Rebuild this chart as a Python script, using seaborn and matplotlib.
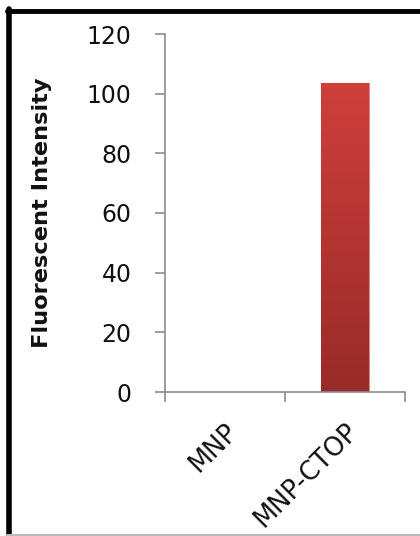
import numpy as np
import pandas as pd
import matplotlib
matplotlib.use("Agg")
import matplotlib.pyplot as plt
from matplotlib.lines import Line2D
from matplotlib.colors import LinearSegmentedColormap
from matplotlib.transforms import ScaledTranslation
import seaborn as sns

categories = ["MNP", "MNP-CTOP"]
intensity = [0.0, 103.5]
yticks = [0, 20, 40, 60, 80, 100, 120]
ylabel = "Fluorescent Intensity"

sns.set_theme(style="white")
plt.rcParams['font.family'] = ['DejaVu Sans']

W, H = 420, 536
fig = plt.figure(figsize=(W / 100, H / 100), dpi=100)
ax = fig.add_axes([165 / W, 1 - 392 / H, (405 - 165) / W, (392 - 34) / H])

df = pd.DataFrame({"cat": categories, "val": intensity})
sns.barplot(data=df, x="cat", y="val", ax=ax, color="#B83432", width=0.4,
            saturation=1, edgecolor="none")

# gradient fill for bars
grad = np.linspace(0, 1, 256).reshape(-1, 1)
cmap = LinearSegmentedColormap.from_list("g", ["#982B29", "#CF3F3B"])
for p in ax.patches:
    x0, y0 = p.get_x(), p.get_y()
    w, h = p.get_width(), p.get_height()
    if h <= 0:
        continue
    im = ax.imshow(grad, extent=[x0, x0 + w, y0, y0 + h], origin="lower",
                   cmap=cmap, aspect="auto", zorder=p.get_zorder() + 0.1)
    im.set_clip_path(p)
    p.set_edgecolor("#E08A88")
    p.set_linewidth(0.8)

ax.set_xlim(-0.5, 1.5)
ax.set_ylim(0, 120)
ax.set_yticks(yticks)
ax.set_yticklabels([str(t) for t in yticks], fontsize=17, color="#111111")

ax.set_xticks([-0.5, 0.5, 1.5])
ax.set_xticklabels([])
ax.set_xticks([0, 1], minor=True)
ax.set_xticklabels(categories, minor=True, rotation=45, ha="right",
                   rotation_mode="anchor", fontsize=18.5, color="#111111")
shift = ScaledTranslation(-10 / 72, 0, fig.dpi_scale_trans)
for lab in ax.get_xticklabels(minor=True):
    lab.set_transform(lab.get_transform() + shift)
ax.tick_params(axis="x", which="minor", length=0, pad=19)
ax.tick_params(axis="x", which="major", length=7.2, width=1.2, color="#8C8C8C",
               direction="out", bottom=True)
ax.tick_params(axis="y", length=7.2, width=1.2, color="#8C8C8C", direction="out",
               left=True, pad=17)

ax.set_xlabel("")
ax.set_ylabel(ylabel, fontsize=16.2, fontweight="bold", color="#111111")
ax.yaxis.set_label_coords(-0.47, 0.5)

for s in ["top", "right"]:
    ax.spines[s].set_visible(False)
for s in ["left", "bottom"]:
    ax.spines[s].set_color("#8C8C8C")
    ax.spines[s].set_linewidth(1.2)

# figure frame
fig.add_artist(Line2D([8.5 / W, 8.5 / W], [1 - 9 / H, 1 - 534 / H], color="black",
                      lw=4, transform=fig.transFigure))
fig.add_artist(Line2D([6.5 / W, 1.0], [1 - 11 / H, 1 - 11 / H], color="black",
                      lw=3.5, transform=fig.transFigure))
fig.add_artist(Line2D([6.5 / W, 1.0], [1 - 534.5 / H, 1 - 534.5 / H], color="#BBBBBB",
                      lw=1.5, transform=fig.transFigure))

fig.savefig("out.png", dpi=100)
